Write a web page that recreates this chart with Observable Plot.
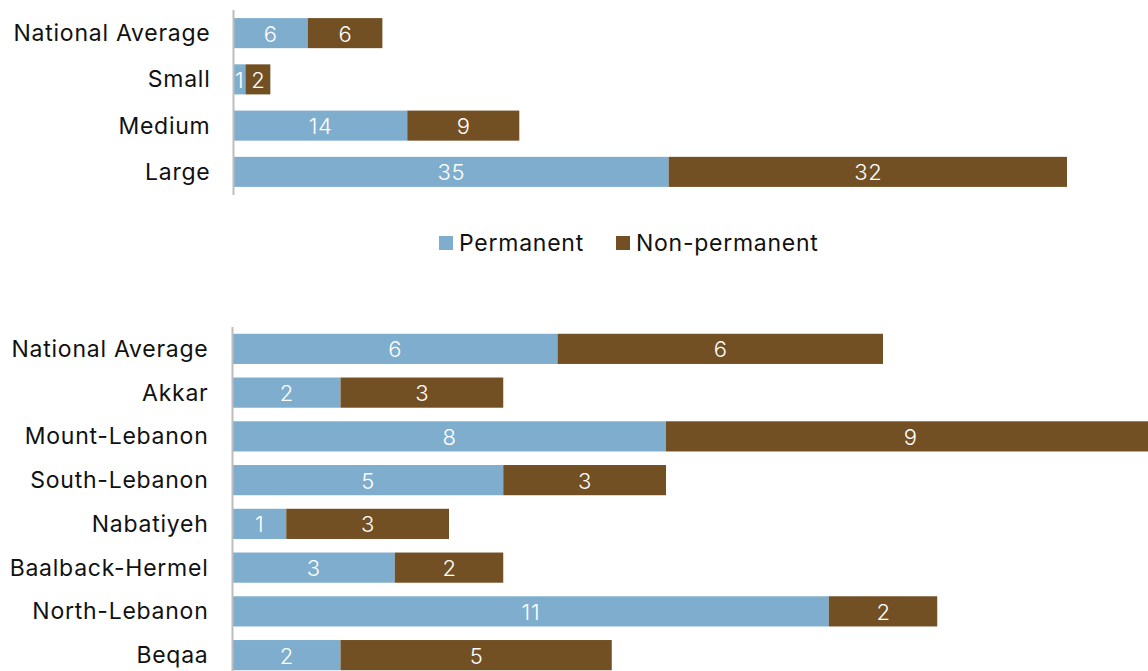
<!DOCTYPE html>
<html>
<head>
<meta charset="utf-8">
<script src="https://cdn.jsdelivr.net/npm/d3@7"></script>
<script src="https://cdn.jsdelivr.net/npm/@observablehq/plot@0.6"></script>
<style>
  html, body { margin: 0; padding: 0; background: #fff; overflow: hidden; width: 1148px; height: 671px; }
  #top svg, #bottom svg { overflow: hidden; display: block; }
  .legend { height: 116px; box-sizing: border-box; padding-top: 29px; font-family: Inter, sans-serif; font-size: 23px; letter-spacing: 0.75px; color: #111; }
  .legend .inner { display: flex; align-items: center; margin-left: 439px; }
  .legend .sw { width: 14px; height: 14px; display: inline-block; margin-right: 6px; }
  .legend .item { display: flex; align-items: center; margin-right: 32px; }
</style>
</head>
<body>
<div id="top"></div>
<div class="legend"><div class="inner" id="legend"></div></div>
<div id="bottom"></div>
<script>
const seriesNames = ["Permanent", "Non-permanent"];
const seriesColors = ["#7FADCD", "#735023"];

const sizeCategories = ["National Average", "Small", "Medium", "Large"];
const sizePermanent = [6, 1, 14, 35];
const sizeNonPermanent = [6, 2, 9, 32];

const regionCategories = ["National Average", "Akkar", "Mount-Lebanon", "South-Lebanon", "Nabatiyeh", "Baalback-Hermel", "North-Lebanon", "Beqaa"];
const regionPermanent = [6, 2, 8, 5, 1, 3, 11, 2];
const regionNonPermanent = [6, 3, 9, 3, 3, 2, 2, 5];

function toRows(cats, perm, nonperm) {
  const rows = [];
  cats.forEach((c, i) => {
    rows.push({cat: c, series: seriesNames[0], value: perm[i]});
    rows.push({cat: c, series: seriesNames[1], value: nonperm[i]});
  });
  return rows;
}

function chart(cats, perm, nonperm, opts) {
  const rows = toRows(cats, perm, nonperm);
  return Plot.plot({
    width: 1148,
    height: opts.height,
    marginLeft: opts.marginLeft,
    marginRight: opts.marginRight,
    marginTop: opts.marginTop,
    marginBottom: opts.marginBottom,
    style: {fontFamily: "Inter, sans-serif", fontSize: "23px", letterSpacing: "0.75px", color: "#111", background: "white"},
    x: {domain: [0, opts.xMax], axis: null},
    y: {domain: cats, round: false, paddingInner: opts.padding, paddingOuter: opts.padding / 2, label: null, tickSize: 0, tickPadding: opts.tickPadding},
    color: {domain: seriesNames, range: seriesColors},
    marks: [
      Plot.barX(rows, Plot.stackX({x: "value", y: "cat", fill: "series", z: "series", order: seriesNames})),
      Plot.text(rows, Plot.stackX({x: "value", y: "cat", z: "series", order: seriesNames, text: d => String(d.value), fill: "white", fontSize: 22, fontWeight: 300, dy: 1})),
      Plot.ruleX([0], {stroke: "#bdbdbd", strokeWidth: 2})
    ]
  });
}

document.getElementById("top").append(chart(sizeCategories, sizePermanent, sizeNonPermanent, {
  height: 200, marginTop: 10, marginBottom: 5, marginLeft: 233, marginRight: 81, xMax: 67, padding: 0.35, tickPadding: 23
}));

document.getElementById("bottom").append(chart(regionCategories, regionPermanent, regionNonPermanent, {
  height: 371, marginTop: 11, marginBottom: 10, marginLeft: 232, marginRight: 265, xMax: 12, padding: 0.31, tickPadding: 24
}));

const leg = document.getElementById("legend");
seriesNames.forEach((s, i) => {
  const item = document.createElement("div");
  item.className = "item";
  const sw = document.createElement("span");
  sw.className = "sw";
  sw.style.background = seriesColors[i];
  item.append(sw, document.createTextNode(s));
  leg.append(item);
});
</script>
</body>
</html>
